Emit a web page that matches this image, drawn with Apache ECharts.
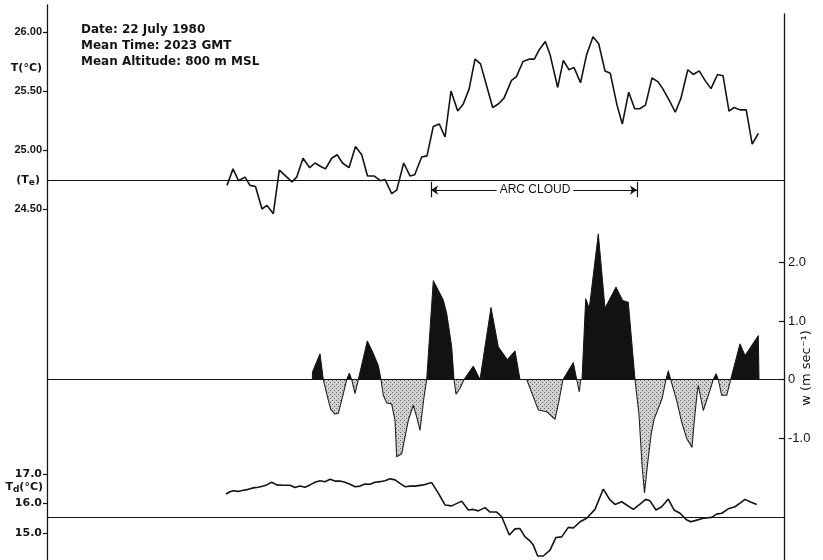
<!DOCTYPE html>
<html>
<head>
<meta charset="utf-8">
<script src="https://cdn.jsdelivr.net/npm/echarts@6/dist/echarts.min.js"></script>
<style>
  html, body { margin: 0; padding: 0; background: #fff; }
  #chart { width: 823px; height: 560px; }
</style>
</head>
<body>
<div id="chart"></div>
<script>
// Aircraft traverse, 22 July 1980 — time along track (s) vs. measured quantities.

// Temperature T (°C): [time s, T]
const tempSeries = [
  [180,24.70],[186,24.84],[191.5,24.74],[198,24.77],[203,24.70],[208.5,24.69],[215,24.50],[220,24.53],
  [226.3,24.46],[232.3,24.83],[245,24.73],[249.7,24.77],[256,24.93],[262.7,24.85],[268,24.89],[273.7,24.86],
  [278.5,24.84],[284.7,24.93],[290.2,24.96],[295.5,24.89],[302,24.85],[308.5,25.03],[314.7,24.96],[320.5,24.78],
  [327,24.78],[333.3,24.74],[338,24.75],[344.7,24.63],[349.7,24.66],[356.7,24.89],[363,24.78],[367.7,24.79],
  [374.7,24.94],[380,24.95],[386.3,25.20],[392.3,25.22],[398,25.11],[404,25.50],[410.7,25.33],[416.3,25.39],
  [422.2,25.52],[428,25.77],[433.5,25.73],[445.7,25.36],[451.3,25.39],[457,25.44],[464.5,25.59],[469.3,25.62],
  [476,25.75],[482,25.77],[487.3,25.77],[492.3,25.85],[498.3,25.92],[503,25.81],[510.7,25.53],[516.3,25.76],
  [522,25.68],[527,25.70],[533.5,25.57],[539.7,25.81],[546,25.96],[551.7,25.90],[558,25.67],[563.3,25.65],
  [570,25.38],[575.3,25.22],[581.7,25.49],[587.7,25.35],[592.7,25.35],[598.5,25.38],[605,25.61],[610.8,25.58],
  [615.7,25.52],[622.3,25.42],[628.3,25.32],[634,25.44],[640.8,25.68],[646.3,25.64],[652.2,25.67],[658,25.59],
  [664,25.52],[670.5,25.64],[676,25.63],[682,25.33],[687.2,25.36],[693,25.34],[699.2,25.34],[705.2,25.05],
  [711.3,25.14]
];

// Vertical velocity w (m/s): [time s, w]
const wSeries = [
  [265.3,0],[265.5,0.13],[273,0.44],[276.3,0],[279.7,-0.24],[283.7,-0.51],[288,-0.59],[291.3,-0.58],
  [296.3,-0.24],[299.7,0],[302.3,0.11],[304.7,0],[308,-0.24],[311.3,0],[320.3,0.66],[325.7,0.47],
  [331.3,0.24],[334,0],[336.3,-0.27],[339.7,-0.40],[344.7,-0.42],[348,-0.70],[349.7,-1.32],[354.7,-1.27],
  [361.3,-0.70],[366.3,-0.44],[369.7,-0.64],[373,-0.87],[377,-0.30],[379.7,0],[381,0],[386.3,1.69],
  [396.3,1.36],[399.7,1.13],[404.7,0.56],[407,0],[409,-0.25],[413,-0.15],[417,0],[426.3,0.23],
  [433,0],[444,1.23],[451.3,0.56],[460.3,0.34],[468,0.49],[473,0],[479.7,0],[491.3,-0.52],
  [499.7,-0.55],[508,-0.68],[512,-0.36],[516,0],[526.3,0.29],[529.7,0],[532.3,-0.21],[533.7,0],
  [535,0],[538.7,1.38],[542.3,1.22],[551.3,2.49],[558,1.22],[569,1.58],[575.7,1.35],[581.3,1.32],
  [588,0],[592,-0.60],[595,-1.45],[597.5,-1.94],[600.5,-1.45],[604,-0.95],[607,-0.68],[610,-0.55],
  [615,-0.33],[619,0],[621.3,0.15],[623.7,0],[629.7,-0.36],[634.7,-0.73],[639.7,-1.01],[645,-1.16],
  [647,-0.75],[650,-0.25],[651.3,-0.10],[656.3,-0.53],[661.3,-0.27],[666.3,0],[669,0.10],[671.3,0],
  [674.7,-0.27],[679.7,-0.27],[683.7,0],[693,0.61],[698,0.41],[711.3,0.75],[712,0]
];

// Dew point Td (°C): [time s, Td]
const dewSeries = [
  [179,16.32],[183,16.40],[186.3,16.43],[191.3,16.41],[196.3,16.45],[201.3,16.48],[206.3,16.53],[211.3,16.55],
  [216.3,16.59],[219.7,16.63],[224.7,16.72],[229.7,16.63],[236.3,16.62],[243,16.62],[248,16.54],[253,16.59],
  [258,16.55],[263,16.63],[268,16.72],[273,16.77],[278,16.74],[283,16.82],[288,16.76],[293,16.76],
  [298,16.72],[303,16.65],[308,16.57],[313,16.59],[318,16.66],[323,16.65],[328,16.72],[333,16.74],
  [338,16.77],[343,16.84],[348,16.80],[353,16.68],[358,16.57],[363,16.59],[368,16.59],[376.3,16.63],
  [384.7,16.71],[391.3,16.35],[398,15.95],[404.7,15.92],[414.7,16.08],[421.3,15.78],[426.3,15.80],[431.3,15.75],
  [438,15.86],[443,15.71],[449.7,15.71],[454.7,15.55],[462.3,14.93],[468,15.14],[473,15.15],[478,14.87],
  [483,14.73],[486.3,14.59],[490.7,14.22],[496.3,14.22],[503,14.42],[509,14.85],[514.7,14.87],[521.3,15.19],
  [526.3,15.17],[533,15.38],[539.7,15.50],[548,15.80],[556.3,16.49],[563,16.12],[568,15.97],[574.7,16.06],
  [586.3,15.80],[593,15.98],[598.7,16.14],[603,16.09],[609,15.78],[614.7,15.89],[621.3,16.15],[627,15.78],
  [633,15.67],[639,15.46],[643.7,15.38],[648,15.42],[656.3,15.50],[664.7,15.53],[669.7,15.64],[674.7,15.67],
  [681.3,15.82],[688,15.89],[693,16.01],[698,16.14],[703,16.06],[709.7,15.97]
];

const tempTicks = [24.5, 25.0, 25.5, 26.0];
const dewTicks = [15.0, 16.0, 17.0];
const wTicks = [-1.0, 0, 1.0, 2.0];

const tempEnv = 24.737;     // environmental temperature Te
const dewRef = 15.54;       // environmental dew point
const arcCloud = [384, 590]; // arc cloud crossing, start / end (s)
const arcLevel = 24.66;
const arcBar = [24.60, 24.73];
const headerLines = ['Date: 22 July 1980', 'Mean Time: 2023 GMT', 'Mean Altitude: 800 m MSL'];

const INK = '#141414';
const tickFont = 'Liberation Sans, Arial, sans-serif';
const wideFont = 'DejaVu Sans, Verdana, sans-serif';

// Stipple texture for downdraft areas
function stipple() {
  const c = document.createElement('canvas');
  c.width = 4; c.height = 4;
  const g = c.getContext('2d');
  g.fillStyle = '#d0d0d0'; g.fillRect(0, 0, 4, 4);
  g.fillStyle = '#6a6a6a';
  g.fillRect(0, 0, 1, 1); g.fillRect(2, 2, 1, 1);
  return c;
}

const wUp = wSeries.map(p => [p[0], Math.max(p[1], 0)]);
const wDown = wSeries.map(p => [p[0], Math.min(p[1], 0)]);

const chart = echarts.init(document.getElementById('chart'), null, { renderer: 'canvas' });

const header = headerLines.map((t, i) => ({
  type: 'text', x: 81, y: 30 + i * 16,
  style: { text: t, font: 'bold 12px ' + wideFont, fill: INK,
           align: 'left', verticalAlign: 'middle', textAlign: 'left', textVerticalAlign: 'middle' }
}));

const sideLabel = (x, y, rich, text) => ({
  type: 'text', x: x, y: y,
  style: { text: text, rich: rich, font: 'bold 11px ' + wideFont, fill: INK,
           align: 'right', verticalAlign: 'middle', textAlign: 'right', textVerticalAlign: 'middle' }
});
const subRich = {
  a: { fontFamily: wideFont, fontWeight: 'bold', fontSize: 11, color: INK },
  s: { fontFamily: wideFont, fontWeight: 'bold', fontSize: 9, color: INK, padding: [6, 0, 0, 0] }
};

chart.setOption({
  animation: false,
  backgroundColor: '#fff',
  grid: [
    { left: 47, right: 39, top: 5, bottom: 0, outerBoundsMode: 'none' },
    { left: 47, right: 39, top: 14, bottom: 0, outerBoundsMode: 'none' }
  ],
  xAxis: [
    { gridIndex: 0, type: 'value', min: 0, max: 737, show: false },
    { gridIndex: 1, type: 'value', min: 0, max: 737, show: false }
  ],
  yAxis: [
    { // T (°C)
      gridIndex: 0, type: 'value', position: 'left', min: 21.5254, max: 26.2288,
      axisLine: { show: true, onZero: false, lineStyle: { color: INK, width: 1.3 } },
      axisTick: { show: true, inside: false, length: 4, customValues: tempTicks, lineStyle: { color: INK, width: 1.2 } },
      axisLabel: { show: true, customValues: tempTicks, margin: 5, formatter: v => v.toFixed(2),
                   fontFamily: tickFont, fontWeight: 'bold', fontSize: 11, color: INK },
      splitLine: { show: false }
    },
    { // Td (°C)
      gridIndex: 0, type: 'value', position: 'left', min: 14.0847, max: 32.8983,
      axisLine: { show: false },
      axisTick: { show: true, inside: false, length: 4, customValues: dewTicks, lineStyle: { color: INK, width: 1.2 } },
      axisLabel: { show: true, customValues: dewTicks, margin: 5, formatter: v => v.toFixed(1),
                   fontFamily: wideFont, fontWeight: 'bold', fontSize: 11, color: INK },
      splitLine: { show: false }
    },
    { // w (m/s)
      gridIndex: 1, type: 'value', position: 'right', min: -3.0855, max: 6.2479,
      axisLine: { show: true, onZero: false, lineStyle: { color: INK, width: 1.3 } },
      axisTick: { show: true, inside: true, length: 5, customValues: wTicks, lineStyle: { color: INK, width: 1.2 } },
      axisLabel: { show: true, customValues: wTicks, margin: 4,
                   formatter: v => (v === 0 ? '0' : v.toFixed(1)),
                   fontFamily: tickFont, fontSize: 13, color: INK },
      splitLine: { show: false }
    }
  ],
  series: [
    {
      name: 'T', type: 'line', xAxisIndex: 0, yAxisIndex: 0,
      data: tempSeries, showSymbol: false, symbol: 'none',
      lineStyle: { color: INK, width: 1.6 }, z: 3,
      markLine: {
        silent: true, symbol: 'none', label: { show: false },
        lineStyle: { color: INK, width: 1.2, type: 'solid' },
        data: [
          { yAxis: tempEnv },
          [ { coord: [arcCloud[0], arcLevel], symbol: 'arrow', symbolSize: 7, lineStyle: { width: 1 } },
            { coord: [arcCloud[1], arcLevel], symbol: 'arrow', symbolSize: 7 } ],
          [ { coord: [arcCloud[0], arcBar[0]] }, { coord: [arcCloud[0], arcBar[1]] } ],
          [ { coord: [arcCloud[1], arcBar[0]] }, { coord: [arcCloud[1], arcBar[1]] } ]
        ]
      },
      markPoint: {
        silent: true, z: 10, symbol: 'rect', symbolSize: 1,
        itemStyle: { color: 'rgba(0,0,0,0)' },
        data: [{ coord: [(arcCloud[0] + arcCloud[1]) / 2 + 1, arcLevel] }],
        label: { show: true, position: 'inside', formatter: 'ARC CLOUD',
                 backgroundColor: '#fff', padding: [1, 3],
                 fontFamily: tickFont, fontSize: 12, color: INK }
      }
    },
    {
      name: 'Td', type: 'line', xAxisIndex: 0, yAxisIndex: 1,
      data: dewSeries, showSymbol: false, symbol: 'none',
      lineStyle: { color: INK, width: 1.6 }, z: 3,
      markLine: {
        silent: true, symbol: 'none', label: { show: false },
        lineStyle: { color: INK, width: 1.2, type: 'solid' },
        data: [{ yAxis: dewRef }]
      }
    },
    {
      name: 'w down', type: 'line', xAxisIndex: 1, yAxisIndex: 2,
      data: wDown, showSymbol: false, symbol: 'none',
      lineStyle: { color: '#222', width: 1.1 },
      areaStyle: { color: { image: stipple(), repeat: 'repeat' }, opacity: 1 },
      z: 2
    },
    {
      name: 'w up', type: 'line', xAxisIndex: 1, yAxisIndex: 2,
      data: wUp, showSymbol: false, symbol: 'none',
      lineStyle: { color: INK, width: 1 },
      areaStyle: { color: '#121212', opacity: 1 },
      z: 2,
      markLine: {
        silent: true, symbol: 'none', label: { show: false },
        lineStyle: { color: INK, width: 1.2, type: 'solid' },
        data: [{ yAxis: 0 }]
      }
    }
  ],
  graphic: header.concat([
    sideLabel(42, 68, null, 'T(°C)'),
    sideLabel(40, 180, subRich, '{a|(T}{s|e}{a|)}'),
    sideLabel(43, 487, subRich, '{a|T}{s|d}{a|(°C)}'),
    {
      type: 'text', x: 807, y: 368, rotation: Math.PI / 2,
      style: { text: 'w (m sec⁻¹)', font: '13px ' + wideFont, fill: INK,
               align: 'center', verticalAlign: 'middle', textAlign: 'center', textVerticalAlign: 'middle' }
    }
  ])
});
</script>
</body>
</html>
